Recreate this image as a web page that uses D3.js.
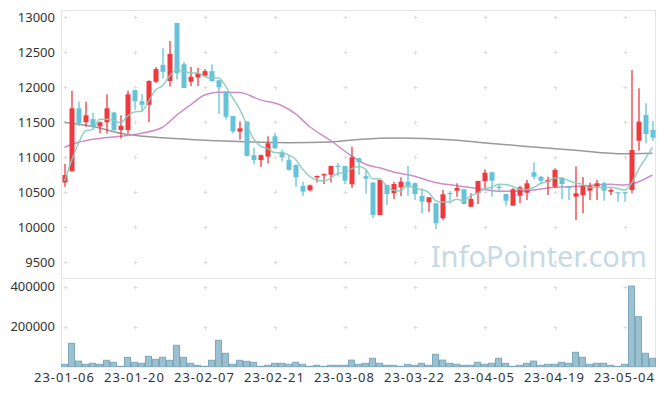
<!DOCTYPE html>
<html>
<head>
<meta charset="utf-8">
<script src="https://cdn.jsdelivr.net/npm/d3@7"></script>
<style>
body { margin: 0; background: #fff; }
svg { display: block; }
.tick text { font-family: "Noto Sans", sans-serif; font-size: 13px; fill: #333; }
.xaxis .tick text { letter-spacing: 1px; }
</style>
</head>
<body>
<svg width="665" height="396"></svg>
<script>
// trading days shown on the chart
var dates = [
  "23-01-06","23-01-09","23-01-10","23-01-11","23-01-12","23-01-13","23-01-16","23-01-17","23-01-18","23-01-19",
  "23-01-20","23-01-25","23-01-26","23-01-27","23-01-30","23-01-31","23-02-01","23-02-02","23-02-03","23-02-06",
  "23-02-07","23-02-08","23-02-09","23-02-10","23-02-13","23-02-14","23-02-15","23-02-16","23-02-17","23-02-20",
  "23-02-21","23-02-22","23-02-23","23-02-24","23-02-27","23-02-28","23-03-02","23-03-03","23-03-06","23-03-07",
  "23-03-08","23-03-09","23-03-10","23-03-13","23-03-14","23-03-15","23-03-16","23-03-17","23-03-20","23-03-21",
  "23-03-22","23-03-23","23-03-24","23-03-27","23-03-28","23-03-29","23-03-30","23-03-31","23-04-03","23-04-04",
  "23-04-05","23-04-06","23-04-07","23-04-10","23-04-11","23-04-12","23-04-13","23-04-14","23-04-17","23-04-18",
  "23-04-19","23-04-20","23-04-21","23-04-24","23-04-25","23-04-26","23-04-27","23-04-28","23-05-02","23-05-03",
  "23-05-04","23-05-08","23-05-09","23-05-10","23-05-11"
];

var opens = [10640,10800,11700,11500,11545,11440,11500,11640,11390,11390,
  11960,11800,11750,12080,12320,12090,12920,12330,12080,12140,
  12170,12230,12100,11940,11590,11366,11510,11030,10960,11010,
  11300,11070,10960,10890,10590,10530,10714,10740,10750,10880,
  10876,10614,10986,10730,10640,10176,10604,10486,10571,10651,
  10630,10447,10357,10343,10129,10490,10523,10543,10294,10486,
  10661,10786,10580,10476,10309,10451,10494,10786,10723,10651,
  10580,10709,10590,10437,10461,10523,10580,10629,10509,10500,
  10500,10533,11237,11604,11390];
var highs = [10904,11950,11794,11794,11637,11510,11900,11650,11600,11950,
  11960,11900,12100,12290,12560,12660,12920,12360,12290,12280,
  12260,12330,12100,11940,11590,11510,11510,11140,11040,11300,
  11350,11110,11030,10900,10650,10610,10740,10770,10880,10920,
  10880,11150,10990,10820,10640,10680,10610,10650,10714,10876,
  10640,10557,10430,10350,10533,10520,10630,10550,10486,10665,
  10830,10790,10604,10480,10557,10590,10676,10929,10730,10723,
  10843,10720,10590,10870,10720,10640,10676,10651,10557,10500,
  10500,12247,11986,11771,11519];
var lows = [10580,10800,11447,11437,11400,11343,11340,11380,11270,11340,
  11680,11650,11500,12060,12130,12010,12110,11990,12020,12020,
  12160,12080,11620,11540,11340,11250,11010,10900,10860,10910,
  11120,10940,10810,10580,10450,10510,10640,10620,10640,10730,
  10620,10560,10750,10480,10130,10176,10320,10400,10447,10450,
  10390,10200,10223,9976,10104,10340,10437,10333,10290,10333,
  10557,10437,10500,10309,10309,10343,10390,10686,10620,10461,
  10557,10400,10390,10100,10200,10390,10390,10380,10461,10366,
  10366,10486,11094,11200,11233];
var closes = [10747,11700,11486,11600,11440,11500,11700,11390,11450,11900,
  11800,11750,12090,12260,12220,12476,12200,11990,12150,12200,
  12230,12090,12000,11580,11370,11414,11020,10960,11030,11200,
  11130,11000,10820,10714,10510,10600,10733,10760,10876,10870,
  10666,11000,10930,10694,10176,10676,10476,10619,10651,10580,
  10476,10366,10429,10057,10471,10480,10561,10333,10404,10661,
  10780,10666,10566,10380,10543,10571,10629,10723,10666,10676,
  10819,10619,10560,10486,10590,10590,10629,10523,10533,10490,
  10490,11104,11509,11333,11280];
var volumes = [12000,117000,28000,12000,17000,12000,32000,22000,2000,47000,
  22000,17000,52000,37000,47000,32000,107000,47000,17000,7000,
  2000,32000,132000,67000,12000,32000,27000,22000,2000,7000,
  17000,17000,12000,22000,12000,2000,7000,2000,7000,7000,
  7000,33000,12000,17000,42000,17000,7000,7000,2000,12000,
  7000,17000,7000,62000,33000,17000,12000,7000,7000,22000,
  12000,17000,42000,17000,2000,7000,17000,28000,7000,12000,
  12000,22000,17000,72000,47000,12000,17000,17000,7000,2000,
  12000,403000,250000,67000,42000];

// moving averages
var ma5 = [10660,10950,11200,11380,11395,11545,11545,11526,11496,11588,
  11648,11658,11798,11960,12024,12159,12249,12229,12207,12203,
  12154,12132,12134,12020,11854,11691,11477,11269,11159,11125,
  11068,11064,11036,10973,10835,10729,10675,10663,10696,10768,
  10781,10834,10868,10832,10693,10695,10590,10528,10520,10600,
  10560,10538,10500,10382,10360,10361,10400,10380,10450,10488,
  10548,10569,10615,10611,10587,10545,10538,10569,10626,10653,
  10703,10701,10668,10632,10615,10569,10571,10564,10573,10553,
  10533,10628,10825,10985,11143];
var ma20Idx = [0,2,5,8,11,14,16,18,20,22,25,28,31,33,35,38,41,43,45,47,50,53,56,59,62,65,67,70,74,78,80,82,84];
var ma20 = [11143,11215,11270,11300,11345,11429,11600,11747,11890,11930,11925,11820,11740,11620,11440,11240,
  11020,10900,10850,10790,10730,10640,10595,10555,10515,10515,10533,10571,10590,10614,10604,10651,10747];
var ma60Idx = [0,5,8,13,18,25,32,38,42,48,55,59,66,73,80,84];
var ma60 = [11500,11420,11343,11285,11255,11225,11209,11220,11255,11275,11250,11215,11155,11100,11050,11057];

var priceTicks = [9500,10000,10500,11000,11500,12000,12500,13000];
var volTicks = [200000,400000];

var svg = d3.select("svg");
var mLeft = 61, mRight = 656, mTop = 10, mMid = 278, mBottom = 367;
var idx = d3.range(dates.length);

var x = d3.scaleBand().domain(idx).range([mLeft, mRight]).padding(0);
var cx = function(i) { return x(i) + x.bandwidth() / 2; };
var y = d3.scaleLinear().domain([9276, 13104]).range([mMid, mTop]);
var yv = d3.scaleLinear().domain([0, 443500]).range([366.7, mMid]);

var red = "#ee3a3f", blue = "#66c2d8";

// frame
var frame = svg.append("g").attr("stroke", "#e4e4e4").attr("stroke-width", 1);
frame.append("line").attr("x1", mLeft).attr("x2", mRight).attr("y1", mTop + 0.5).attr("y2", mTop + 0.5);
frame.append("line").attr("x1", mLeft).attr("x2", mRight).attr("y1", mMid + 0.5).attr("y2", mMid + 0.5);
frame.append("line").attr("x1", mLeft + 0.5).attr("x2", mLeft + 0.5).attr("y1", mTop).attr("y2", mBottom);
frame.append("line").attr("x1", mRight - 0.5).attr("x2", mRight - 0.5).attr("y1", mTop).attr("y2", mBottom);

// grid crosses
var xTickIdx = d3.range(0, dates.length, 10);
var crosses = [];
xTickIdx.forEach(function(i) {
  priceTicks.forEach(function(p) { crosses.push([cx(i), y(p)]); });
  volTicks.forEach(function(v) { crosses.push([cx(i), yv(v)]); });
});
svg.append("g").attr("stroke", "#dcdcdc").attr("stroke-width", 1)
  .selectAll("path").data(crosses).enter().append("path")
  .attr("d", function(d) {
    var a = Math.round(d[0]) + 0.5, b = Math.round(d[1]) + 0.5;
    return "M" + (a - 2) + "," + b + "H" + (a + 2) + "M" + a + "," + (b - 2) + "V" + (b + 2);
  });

// watermark
svg.append("text")
  .attr("x", 647).attr("y", 267)
  .attr("text-anchor", "end")
  .style("font-family", "'Noto Sans', sans-serif")
  .style("font-size", "29px")
  .attr("fill", "#c6dae4")
  .text("InfoPointer.com");

// moving averages
var line = d3.line().curve(d3.curveMonotoneX);
svg.append("path")
  .attr("d", line(ma60Idx.map(function(i, k) { return [cx(i), y(ma60[k])]; })))
  .attr("fill", "none").attr("stroke", "#999").attr("stroke-width", 1.5);
svg.append("path")
  .attr("d", line(ma20Idx.map(function(i, k) { return [cx(i), y(ma20[k])]; })))
  .attr("fill", "none").attr("stroke", "#cf8cc8").attr("stroke-width", 1.5);

// candles
var candles = svg.append("g").selectAll("g").data(idx).enter().append("g");
candles.append("line")
  .attr("x1", function(i) { return Math.round(cx(i)); })
  .attr("x2", function(i) { return Math.round(cx(i)); })
  .attr("y1", function(i) { return y(highs[i]); })
  .attr("y2", function(i) { return y(lows[i]); })
  .attr("stroke", function(i) { return closes[i] >= opens[i] ? red : blue; })
  .attr("stroke-width", 1.3);
candles.append("rect")
  .attr("x", function(i) { return Math.round(cx(i)) - 2.5; })
  .attr("width", 5)
  .attr("y", function(i) { return y(Math.max(opens[i], closes[i])); })
  .attr("height", function(i) { return Math.max(1.2, Math.abs(y(opens[i]) - y(closes[i]))); })
  .attr("fill", function(i) { return closes[i] >= opens[i] ? red : blue; });

svg.append("path")
  .attr("d", line(idx.map(function(i) { return [cx(i), y(ma5[i])]; })))
  .attr("fill", "none").attr("stroke", "#86cbbf").attr("stroke-width", 1.5).attr("opacity", 0.9);

// volume bars
svg.append("g").selectAll("rect").data(idx).enter().append("rect")
  .attr("x", function(i) { return x(i) + 0.5; })
  .attr("width", x.bandwidth() - 1)
  .attr("y", function(i) { return yv(volumes[i]); })
  .attr("height", function(i) { return yv(0) - yv(volumes[i]); })
  .attr("fill", "#9bc0d0")
  .attr("stroke", "#7ea9bd")
  .attr("stroke-width", 1);

// axes
var yAxis = svg.append("g").attr("transform", "translate(" + (mLeft - 6) + ",0)")
  .call(d3.axisLeft(y).tickValues(priceTicks).tickSize(0).tickPadding(0).tickFormat(d3.format("d")));
var vAxis = svg.append("g").attr("transform", "translate(" + (mLeft - 6) + ",0)")
  .call(d3.axisLeft(yv).tickValues(volTicks).tickSize(0).tickPadding(0).tickFormat(d3.format("d")));
var xAxis = svg.append("g").attr("class", "xaxis").attr("transform", "translate(0," + mBottom + ")")
  .call(d3.axisBottom(x).tickValues(xTickIdx).tickSize(0).tickPadding(6)
    .tickFormat(function(i) { return dates[i]; }));
[yAxis, vAxis, xAxis].forEach(function(a) { a.select(".domain").remove(); });
</script>
</body>
</html>
